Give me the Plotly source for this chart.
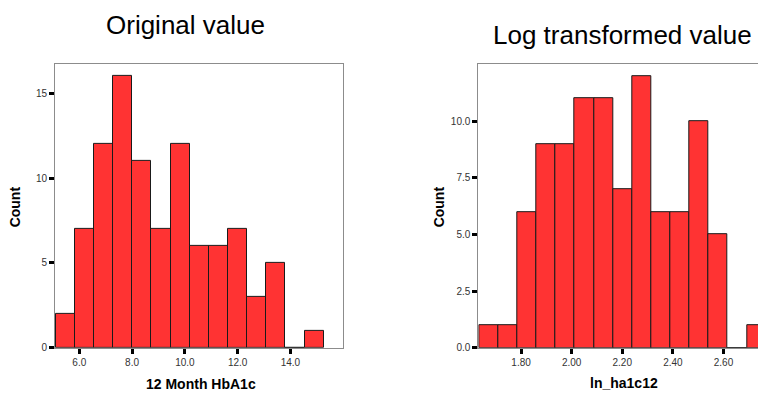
import plotly.graph_objects as go

# ---- data ----
orig_counts = [2, 7, 12, 16, 11, 7, 12, 6, 6, 7, 3, 5, 0, 1]
orig_bin_start = 5.11
orig_bin_width = 0.725
orig_ticks = [6.0, 8.0, 10.0, 12.0, 14.0]
orig_ticklabels = ["6.0", "8.0", "10.0", "12.0", "14.0"]
orig_yticks = [0, 5, 10, 15]
orig_yticklabels = ["0", "5", "10", "15"]

log_counts = [1, 1, 6, 9, 9, 11, 11, 7, 12, 6, 6, 10, 5, 0, 1]
log_bin_start = 1.634
log_bin_width = 0.0756
log_ticks = [1.8, 2.0, 2.2, 2.4, 2.6, 2.8]
log_ticklabels = ["1.80", "2.00", "2.20", "2.40", "2.60", "2.80"]
log_yticks = [0, 2.5, 5.0, 7.5, 10.0]
log_yticklabels = ["0.0", "2.5", "5.0", "7.5", "10.0"]

titles = ["Original value", "Log transformed value"]
xtitles = ["12 Month HbA1c", "ln_ha1c12"]
ytitle = "Count"

W, H = 758, 397
FONT = "Liberation Sans, Arial, sans-serif"
BAR = "#FF3333"
EDGE = "#1a1a1a"
FRAME = "#8c8c8c"


def centers(start, width, n):
    return [start + width * (i + 0.5) for i in range(n)]


fig = go.Figure()
fig.add_trace(go.Bar(
    x=centers(orig_bin_start, orig_bin_width, len(orig_counts)),
    y=orig_counts, width=orig_bin_width,
    marker=dict(color=BAR, line=dict(color=EDGE, width=1)),
    xaxis="x", yaxis="y", showlegend=False, hoverinfo="skip"))
fig.add_trace(go.Bar(
    x=centers(log_bin_start, log_bin_width, len(log_counts)),
    y=log_counts, width=log_bin_width,
    marker=dict(color=BAR, line=dict(color=EDGE, width=1)),
    xaxis="x2", yaxis="y2", showlegend=False, hoverinfo="skip"))


def px_x(p):
    return p / W


def px_y(p):
    return 1 - p / H


common_axis = dict(showgrid=False, zeroline=False, showline=True, linecolor=FRAME,
                   linewidth=1, ticks="outside", ticklen=5, tickwidth=3,
                   tickcolor="black", tickfont=dict(family=FONT, size=10, color="#333333"))

fig.update_layout(
    width=W, height=H, margin=dict(l=0, r=0, t=0, b=0),
    paper_bgcolor="white", plot_bgcolor="white", bargap=0,
    xaxis=dict(domain=[px_x(55), px_x(342.7)], range=[5.08, 15.98],
               tickvals=orig_ticks, ticktext=orig_ticklabels, mirror=True,
               anchor="y", **common_axis),
    yaxis=dict(domain=[px_y(352.3), px_y(64.7)], range=[0, 16.72],
               tickvals=orig_yticks, ticktext=orig_yticklabels, mirror=True,
               anchor="x", **common_axis),
    xaxis2=dict(domain=[px_x(478.3), 1.0], range=[1.631, 1.631 + (758 - 478.3) / 253.0],
                tickvals=log_ticks, ticktext=log_ticklabels, mirror=True,
                anchor="y2", **common_axis),
    yaxis2=dict(domain=[px_y(352.3), px_y(65)], range=[0, 12.51],
                tickvals=log_yticks, ticktext=log_yticklabels, mirror=False,
                anchor="x2", **common_axis),
)

ann = []
ann.append(dict(text=titles[0], x=px_x(185), y=px_y(25), xref="paper", yref="paper",
                xanchor="center", yanchor="middle", showarrow=False,
                font=dict(family=FONT, size=26, color="black")))
ann.append(dict(text=titles[1], x=px_x(622), y=px_y(35), xref="paper", yref="paper",
                xanchor="center", yanchor="middle", showarrow=False,
                font=dict(family=FONT, size=26, color="black")))
ann.append(dict(text="<b>%s</b>" % xtitles[0], x=px_x(200.5), y=px_y(389), xref="paper",
                yref="paper", xanchor="center", yanchor="middle", showarrow=False,
                font=dict(family=FONT, size=14, color="black")))
ann.append(dict(text="<b>%s</b>" % xtitles[1], x=px_x(623.5), y=px_y(388), xref="paper",
                yref="paper", xanchor="center", yanchor="middle", showarrow=False,
                font=dict(family=FONT, size=14, color="black")))
for xc in (15, 439):
    ann.append(dict(text="<b>%s</b>" % ytitle, x=px_x(xc), y=px_y(210), xref="paper",
                    yref="paper", xanchor="center", yanchor="middle", showarrow=False,
                    textangle=-90, font=dict(family=FONT, size=14, color="black")))
fig.update_layout(annotations=ann)

fig.write_html("out.html", config={"displayModeBar": False},
               post_script="document.body.style.margin='0';document.body.style.padding='0';")
